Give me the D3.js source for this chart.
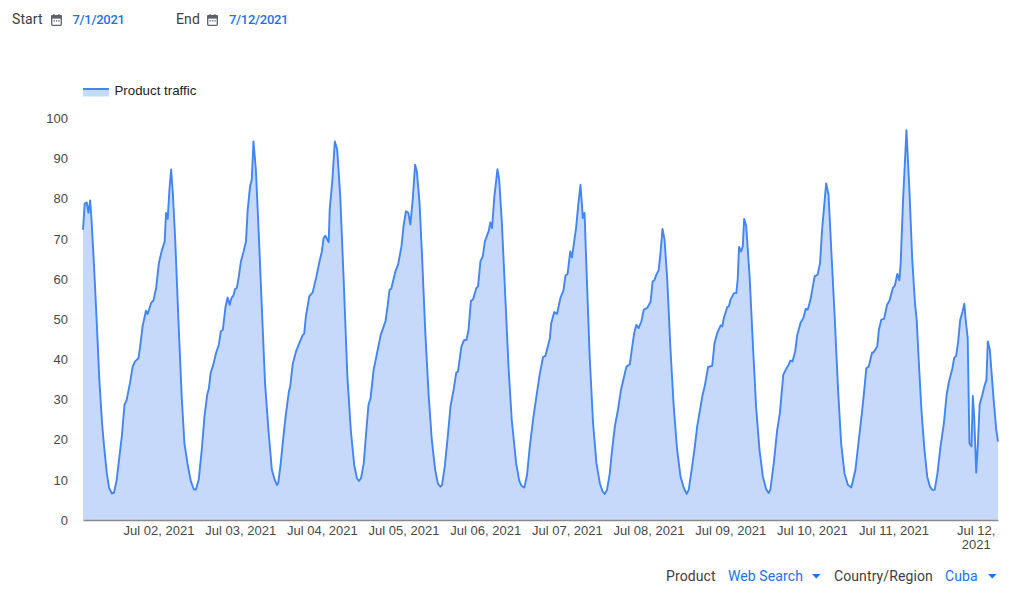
<!DOCTYPE html>
<html>
<head>
<meta charset="utf-8">
<script src="https://cdnjs.cloudflare.com/ajax/libs/d3/7.8.5/d3.min.js"></script>
<style>
html,body{margin:0;padding:0;background:#fff;overflow:hidden}
svg{display:block}
.ui{font-family:Roboto,"Liberation Sans",sans-serif;font-size:14px;letter-spacing:.1px}
.ui.date{font-size:13px;letter-spacing:-.3px;font-weight:500}
.chart text{font-family:"Liberation Sans",Arial,sans-serif;font-size:13px;fill:#484848}
</style>
</head>
<body>
<svg id="c" width="1024" height="596"></svg>
<script>
// Hours since the first sample (Jul 1, about 01:48 UTC)
const hours = [
0,.5,1.1,1.6,2.1,2.5,3.2,4,4.8,5.6,6.2,7,7.7,8.5,9.1,9.9,10.7,11.4,12.2,12.8,13.8,14.6,15.3,16.3,16.8,17.5,18.5,19,20,20.7,21.5,22.3,23.1,24,24.4,24.9,25.4,25.9,26.4,27.1,28,29,29.8,30.7,31.7,32.6,33.2,34,34.9,35.7,36.5,37,37.5,38.3,39.1,39.9,40.5,41.1,41.9,42.5,43.1,43.7,44.2,44.7,45.2,45.8,46.4,47.2,47.9,48.4,49.1,
49.6,50.1,50.8,51.6,52.5,53.5,54.5,55.5,56.3,57,57.4,58.1,58.9,59.6,60.5,60.9,61.6,62.6,63.6,64.6,65,65.5,66.5,67.5,68.5,69.5,70.2,70.7,71.2,72.2,72.5,73.3,74,74.7,75.6,76.6,77.7,78.7,79.7,80.5,81.1,81.7,82.5,83.2,83.9,84.5,85.4,86.3,87.5,88.9,89.5,90.1,90.6,91.8,92.6,93.6,94.2,94.9,95.6,96.2,
96.9,97.6,98.1,98.9,99.6,100.6,101.6,102.5,103.5,104.3,105,105.5,106.3,107.2,108,108.9,109.7,110.2,111.2,111.9,112.7,113.3,114,114.6,115.6,116.1,116.8,117.5,118.1,119.2,119.7,120.2,120.9,121.8,122.3,123.1,124.1,125.1,126,127.3,128.2,128.9,129.7,130.5,131.3,132.4,133.4,134.2,135.2,135.9,136.6,137.2,137.6,138.5,139.3,140.3,141.2,141.8,142.4,143.2,
143.7,144,144.9,145.5,146.2,146.6,146.9,147.4,147.9,148.9,149.9,150.9,151.9,152.7,153.3,154,154.8,155.5,156.3,157.2,158.1,158.9,159.7,160.7,161.4,162,162.6,163.3,164.1,164.8,165.8,166.8,167.4,167.9,168.5,169.2,169.7,170.3,170.9,171.7,172.6,173.6,174.6,175.6,176.6,177.4,178,179,179.8,180.5,181.5,182,182.7,183.7,184.9,185.6,186.4,187.4,187.9,188.3,189.3,189.8,190.3,
191.3,192,192.4,192.8,193.4,193.9,194.3,194.9,195.9,196.9,197.8,198.8,199.8,200.8,201.5,202,203,204,204.8,205.8,206.5,207.4,207.9,208.5,209.3,209.9,210.9,211.7,212.4,213,213.8,215,215.9,216.6,217.2,217.8,218.4,219.1,219.9,220.9,221.9,222.8,223.8,224.8,225.8,227,228,228.9,229.6,230.2,230.9,231.9,232.3,233.4,233.9,234.6,235.4,236.3,237,
238,238.6,239.3,239.9,240.3,241,242,242.9,243.7,244.5,245,245.7,246.4,247.2,248.1,248.9,249.6,250.3,251.1,252,253,253.8,254.5,255.5,256,256.6,257.2,257.8,258.5,259,259.5,260,260.5,261.1,261.5,261.9,262.5,263,263.5,264.3,264.9,265.5,265.9,266.5,267.1,267.7,268.4,268.9
];
const traffic = [
72.3,78.8,79.1,76.5,79.6,74.8,64,49.9,34.9,24.1,18.3,11.6,7.9,6.6,6.8,10,15.8,20.8,28.7,29.8,34.1,38.2,39.5,40.3,43.2,48.2,52.1,51.3,54,54.7,57.8,64,66.9,69.4,76.5,75,82.3,87.3,81.5,69.8,50.7,30.8,19.1,14.1,9.6,7.6,7.6,10,17.5,25.8,31.2,32.8,36.6,38.7,41.6,43.6,47,47.4,53.2,55.4,53.6,55.4,55.9,57.5,57.8,60.7,64.4,66.9,69.4,77.3,83.1,
84.8,94.3,87.3,72.3,54,34.1,22.4,12.5,10.1,8.7,9.3,14.1,20.8,26.2,32,33.3,38.7,42,44.1,46.1,46.4,50.7,55.7,56.7,60.3,64.4,66.9,70.2,70.8,69.2,77.3,84.8,94.3,92.3,80.6,59.9,35.7,22.4,13.7,10.4,9.7,10.4,14.1,21.6,28.7,30.3,37.4,41.1,46.1,49.5,53.2,57.4,57.6,61.9,63.6,68.2,73.2,76.9,76.5,73.6,
79.8,88.5,86.9,79,66.5,46.6,30.8,20,12.5,9.1,8.3,8.7,13.3,20.8,28.3,32.4,36.7,37,43.2,44.7,44.9,47.4,54.6,54.9,57.8,58.2,64.4,65.7,69.4,71.9,74.1,72.7,80.6,87.4,84.8,74,55.7,37.4,24.9,14.1,9.8,8.5,8.1,11.2,18.3,25.8,31.6,36.2,40.6,40.9,43.2,45.3,49,51.8,51.3,55.3,57.2,60.9,61.3,66.9,
65.4,67.3,72.7,78.1,83.5,78.9,75.2,76.5,64,40.7,24.1,14.1,9.1,7.1,6.5,7.5,11.6,17.5,23.3,27.4,32.4,35.3,38.2,38.8,43.2,46.6,48.6,47.8,49.5,52.4,52.8,54.4,59.4,59.7,61.1,62.3,66.5,72.5,69.8,59.9,43.2,28.3,17.5,10.8,7.9,6.5,7.5,13.3,18.3,23.3,28.3,30.8,33.3,38.1,38.4,44.1,46.6,48.5,48.2,50.2,53,53.2,54.9,
56.5,56.5,59.9,68,66.9,68.2,75,73.2,60.7,43.2,28.3,17.5,10.8,7.6,6.7,7.6,14.1,22.4,26.6,36.2,37.4,38.7,39.7,39.5,42,46.1,49.2,50.3,52.6,52.4,54.9,60.7,61.1,64,72.3,78.1,83.8,81,67.3,50.7,32.4,19.1,11.6,8.7,8.1,12.5,20,26.6,32.4,37.8,38.2,41.7,41.7,43.2,47.4,49.9,50.1,53.6,54.6,
57.8,58.4,61.3,59.7,64,79.8,97.1,81.5,64.8,54,49.9,38.2,27.4,18.3,10.8,8.3,7.5,7.5,11.6,18.3,24.1,31.2,34.5,37.8,40.3,40.9,44.5,49.9,52,53.9,49,45.3,19.1,18.3,30.9,25.8,11.8,19.1,28.7,31.2,33.3,34.9,44.5,42.4,35.7,29.1,22.4,19.5
];
const yTicks = [0,10,20,30,40,50,60,70,80,90,100];
const dayTicks = ["2021-07-02","2021-07-03","2021-07-04","2021-07-05","2021-07-06","2021-07-07","2021-07-08","2021-07-09","2021-07-10","2021-07-11","2021-07-12"];
const seriesName = "Product traffic";
const startLabel = "7/1/2021", endLabel = "7/12/2021";
const productLabel = "Web Search", regionLabel = "Cuba";

const HOUR = 3600e3;
const t0 = Date.UTC(2021,6,1,1,48);
const toDate = h => new Date(t0 + h*HOUR);
const points = hours.map((h,i)=>({t:toDate(h),v:traffic[i]}));

const svg = d3.select("#c");
const x = d3.scaleUtc().domain([toDate(0),toDate(hours[hours.length-1])]).range([83,998]);
const y = d3.scaleLinear().domain([0,100]).range([520,118.5]);
const BLUE="#4285f4", FILL="#c6d9fb";

const chart = svg.append("g").attr("class","chart");
chart.append("path").datum(points).attr("fill",FILL)
  .attr("d",d3.area().x(d=>x(d.t)).y0(y(0)).y1(d=>y(d.v)));
chart.append("path").datum(points).attr("fill","none").attr("stroke",BLUE).attr("stroke-width",1.9)
  .attr("stroke-linejoin","round")
  .attr("d",d3.line().x(d=>x(d.t)).y(d=>y(d.v)));

// axes
const fmt = d3.utcFormat("%b %d, %Y");
const xAxis = chart.append("g").attr("transform","translate(0,520)")
  .call(d3.axisBottom(x).tickValues(dayTicks.map(s=>new Date(s+"T00:00:00Z"))).tickFormat(fmt).tickSize(0).tickPadding(4));
xAxis.select(".domain").attr("stroke","#8a8a8a").attr("stroke-width",1.5);
xAxis.selectAll("text").attr("dy","0.86em").each(function(d,i){
  if(i===dayTicks.length-1){
    const s=fmt(d).split(" "), t=d3.select(this).text(null), xx=0.5;
    t.append("tspan").attr("x",xx).text(s[0]+" "+s[1]);
    t.append("tspan").attr("x",xx).attr("dy","1.08em").text(s[2]);
  }
});
const yAxis = chart.append("g").attr("transform","translate(83,0)")
  .call(d3.axisLeft(y).tickValues(yTicks).tickSize(0).tickPadding(15));
yAxis.select(".domain").remove();

// legend
const lg = chart.append("g").attr("transform","translate(83,89)");
lg.append("rect").attr("width",26).attr("height",7.5).attr("fill",FILL);
lg.append("line").attr("x2",26).attr("stroke",BLUE).attr("stroke-width",2);
lg.append("text").attr("x",31.5).attr("y",1).attr("dy","0.35em").style("fill","#222").style("font-size","13.3px").text(seriesName);

// controls
function calendar(px,py){
  const g=svg.append("g").attr("transform",`translate(${px},${py})`).attr("fill","none").attr("stroke","#5f6368");
  g.append("rect").attr("x",.7).attr("y",1.7).attr("width",9.6).attr("height",9.6).attr("rx",1).attr("stroke-width",1.3);
  g.append("rect").attr("x",.7).attr("y",1.7).attr("width",9.6).attr("height",2.4).attr("fill","#5f6368").attr("stroke-width",1);
  g.append("path").attr("d","M3 0v2M8 0v2").attr("stroke-width",1.2);
  g.append("path").attr("d","M2.5 6.8h1.4M4.9 6.8h1.4M7.3 6.8h1.4").attr("stroke-width",1.2);
}
function uiText(px,py,txt,col,cls){
  svg.append("text").attr("class","ui"+(cls?" "+cls:"")).attr("x",px).attr("y",py).attr("fill",col).text(txt);
}
const DARK="#3c4043", LINK="#1a73e8";
uiText(12,24,"Start",DARK); calendar(51,14); uiText(72.5,24,startLabel,LINK,"date");
uiText(176,24,"End",DARK); calendar(207,14); uiText(229,24,endLabel,LINK,"date");
uiText(666,581,"Product",DARK); uiText(728,581,productLabel,LINK);
uiText(834,581,"Country/Region",DARK); uiText(945,581,regionLabel,LINK);
[812,988].forEach(px=>svg.append("path").attr("transform",`translate(${px},574)`).attr("d","M0 0h8.5l-4.25 4.5z").attr("fill",LINK));
</script>
</body>
</html>
